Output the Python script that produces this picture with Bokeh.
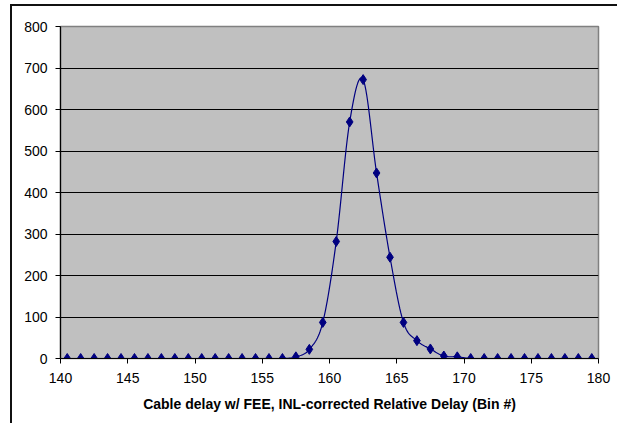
import numpy as np
from bokeh.plotting import figure
from bokeh.models import Range1d, FixedTicker, ColumnDataSource
from bokeh.embed import file_html
from bokeh.resources import INLINE

# ---- data ----
bins = [140.5, 141.5, 142.5, 143.5, 144.5, 145.5, 146.5, 147.5, 148.5, 149.5,
        150.5, 151.5, 152.5, 153.5, 154.5, 155.5, 156.5, 157.5, 158.5, 159.5,
        160.5, 161.5, 162.5, 163.5, 164.5, 165.5, 166.5, 167.5, 168.5, 169.5,
        170.5, 171.5, 172.5, 173.5, 174.5, 175.5, 176.5, 177.5, 178.5, 179.5]
counts = [0, 0, 0, 0, 0, 0, 0, 0, 0, 0,
          0, 0, 0, 0, 0, 0, 0, 4, 22, 87,
          282, 570, 672, 447, 244, 87, 43, 23, 6, 4,
          0, 0, 0, 0, 0, 0, 0, 0, 0, 0]
x_ticks = [140, 145, 150, 155, 160, 165, 170, 175, 180]
y_ticks = [0, 100, 200, 300, 400, 500, 600, 700, 800]
x_title = "Cable delay w/ FEE, INL-corrected Relative Delay (Bin #)"


def smooth(xs, ys, n=16):
    """Excel-like smoothed line: cubic Bezier through points (Catmull-Rom tangents)."""
    xs = np.asarray(xs, float)
    ys = np.asarray(ys, float)
    px = np.concatenate([[xs[0]], xs, [xs[-1]]])
    py = np.concatenate([[ys[0]], ys, [ys[-1]]])
    t = np.linspace(0, 1, n)[:, None]
    outx, outy = [], []
    for i in range(len(xs) - 1):
        p0 = np.array([px[i], py[i]])
        p1 = np.array([px[i + 1], py[i + 1]])
        p2 = np.array([px[i + 2], py[i + 2]])
        p3 = np.array([px[i + 3], py[i + 3]])
        c1 = p1 + (p2 - p0) / 6.0
        c2 = p2 - (p3 - p1) / 6.0
        pts = ((1 - t) ** 3) * p1 + 3 * ((1 - t) ** 2) * t * c1 + 3 * (1 - t) * t ** 2 * c2 + t ** 3 * p2
        if i > 0:
            pts = pts[1:]
        outx.extend(pts[:, 0])
        outy.extend(pts[:, 1])
    return outx, outy


sx, sy = smooth(bins, counts)

p = figure(frame_width=538, frame_height=332,
           min_border_left=48, min_border_right=21,
           min_border_top=20, min_border_bottom=67,
           x_range=Range1d(140, 180), y_range=Range1d(0, 800),
           output_backend="svg", toolbar_location=None)

p.background_fill_color = "#C0C0C0"
p.border_fill_color = "white"
p.outline_line_color = "#808080"
p.outline_line_width = 1.5

p.line(sx, sy, line_color="#000080", line_width=1.2)
src = ColumnDataSource(dict(x=bins, y=counts))
p.scatter("x", "y", source=src, marker="diamond", size=10,
          fill_color="#000080", line_color="#000080")

p.xgrid.visible = False
p.ygrid.grid_line_color = "black"
p.ygrid.grid_line_width = 1
p.ygrid.ticker = FixedTicker(ticks=y_ticks)

for ax, ticks in ((p.xaxis[0], x_ticks), (p.yaxis[0], y_ticks)):
    ax.ticker = FixedTicker(ticks=ticks)
    ax.axis_line_color = "black"
    ax.axis_line_width = 1.2
    ax.major_tick_line_color = "black"
    ax.major_tick_out = 5
    ax.major_tick_in = 0
    ax.minor_tick_line_color = None
    ax.major_label_text_font = "Liberation Sans"
    ax.major_label_text_font_size = "14px"
    ax.major_label_text_color = "black"

p.yaxis.major_label_standoff = 8
p.xaxis.major_label_standoff = 9
p.xaxis.axis_label = x_title
p.xaxis.axis_label_text_font = "Liberation Sans"
p.xaxis.axis_label_text_font_style = "bold"
p.xaxis.axis_label_text_font_size = "14px"
p.xaxis.axis_label_text_color = "black"
p.xaxis.axis_label_standoff = 10

# outer chart-area frame (only its left and top edges fall inside the window)
p.styles = {"position": "relative", "left": "12px", "top": "6px",
            "box-shadow": "-2px -2px 0px 0px #111111"}

open("out.html", "w").write(file_html(p, INLINE))
